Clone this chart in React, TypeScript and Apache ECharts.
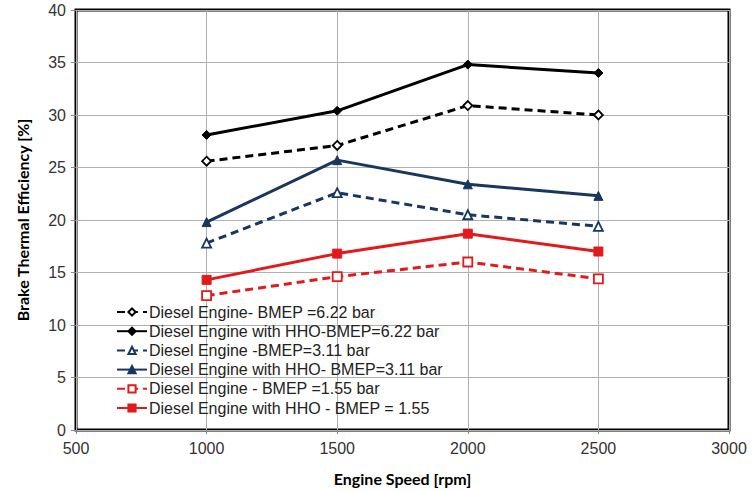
import React, { useEffect, useRef } from "react";
import * as echarts from "echarts";

const speeds = [1000, 1500, 2000, 2500];
const seriesNames = [
  "Diesel Engine- BMEP =6.22 bar",
  "Diesel Engine with HHO-BMEP=6.22 bar",
  "Diesel Engine -BMEP=3.11 bar",
  "Diesel Engine with HHO- BMEP=3.11 bar",
  "Diesel Engine - BMEP =1.55 bar",
  "Diesel Engine with HHO - BMEP = 1.55",
];
const d622 = [25.6, 27.1, 30.9, 30.0];
const hho622 = [28.1, 30.4, 34.8, 34.0];
const d311 = [17.8, 22.6, 20.5, 19.4];
const hho311 = [19.8, 25.7, 23.4, 22.3];
const d155 = [12.8, 14.6, 16.0, 14.4];
const hho155 = [14.3, 16.8, 18.7, 17.0];
const seriesValues = [d622, hho622, d311, hho311, d155, hho155];
const colors = ["#000000", "#000000", "#17375E", "#17375E", "#E31A1C", "#E31A1C"];
const symbols = ["diamond", "diamond", "triangle", "triangle", "rect", "rect"];
const dashed = [true, false, true, false, true, false];

export default function App() {
  const ref = useRef<HTMLDivElement>(null);
  useEffect(() => {
    if (!ref.current) return;
    const chart = echarts.init(ref.current, undefined, { renderer: "svg" });
    const series = seriesNames.map((name, i) => ({
      name,
      type: "line",
      data: speeds.map((s, j) => [s, seriesValues[i][j]]),
      symbol: symbols[i],
      symbolSize: symbols[i] === "rect" ? 9 : 9,
      showSymbol: true,
      lineStyle: {
        color: colors[i],
        width: 3,
        type: dashed[i] ? [8, 5] : "solid",
      },
      itemStyle: {
        color: dashed[i] ? "#ffffff" : colors[i],
        borderColor: colors[i],
        borderWidth: dashed[i] ? 1.8 : 1,
      },
      z: 3,
    }));
    chart.setOption({
      animation: false,
      backgroundColor: "#ffffff",
      grid: {
        left: 76,
        top: 10,
        right: 24,
        bottom: 61,
        show: true,
        borderColor: "#000000",
        borderWidth: 3,
      },
      xAxis: {
        type: "value",
        min: 500,
        max: 3000,
        interval: 500,
        name: "Engine Speed [rpm]",
        nameLocation: "middle",
        nameGap: 40,
        nameTextStyle: {
          fontFamily: "Lato",
          fontWeight: "bold",
          fontSize: 16,
          color: "#000",
        },
        axisLine: { show: false },
        axisTick: { show: true, length: 4, lineStyle: { color: "#888" } },
        axisLabel: {
          fontFamily: "Liberation Sans",
          fontSize: 16,
          color: "#333",
          margin: 10,
          formatter: (v: number) => String(v),
        },
        splitLine: { show: true, lineStyle: { color: "#b0b0b0", width: 1 } },
      },
      yAxis: {
        type: "value",
        min: 0,
        max: 40,
        interval: 5,
        name: "Brake Thermal Efficiency [%]",
        nameLocation: "middle",
        nameGap: 46,
        nameTextStyle: {
          fontFamily: "Lato",
          fontWeight: "bold",
          fontSize: 16,
          color: "#000",
        },
        axisLine: { show: false },
        axisTick: { show: true, length: 5, lineStyle: { color: "#888" } },
        axisLabel: {
          fontFamily: "Liberation Sans",
          fontSize: 16,
          color: "#333",
          margin: 10,
        },
        splitLine: { show: true, lineStyle: { color: "#b0b0b0", width: 1 } },
      },
      legend: {
        orient: "vertical",
        left: 116,
        top: 304,
        itemWidth: 30,
        itemHeight: 9,
        itemGap: 3.2,
        padding: 0,
        data: seriesNames,
        textStyle: {
          fontFamily: "Liberation Sans",
          fontSize: 16,
          color: "#222",
          padding: [0, 0, 0, -3],
        },
      },
      series,
    });
    return () => chart.dispose();
  }, []);
  return <div ref={ref} style={{ width: 753, height: 491, position: "absolute", left: 0, top: 0 }} />;
}
